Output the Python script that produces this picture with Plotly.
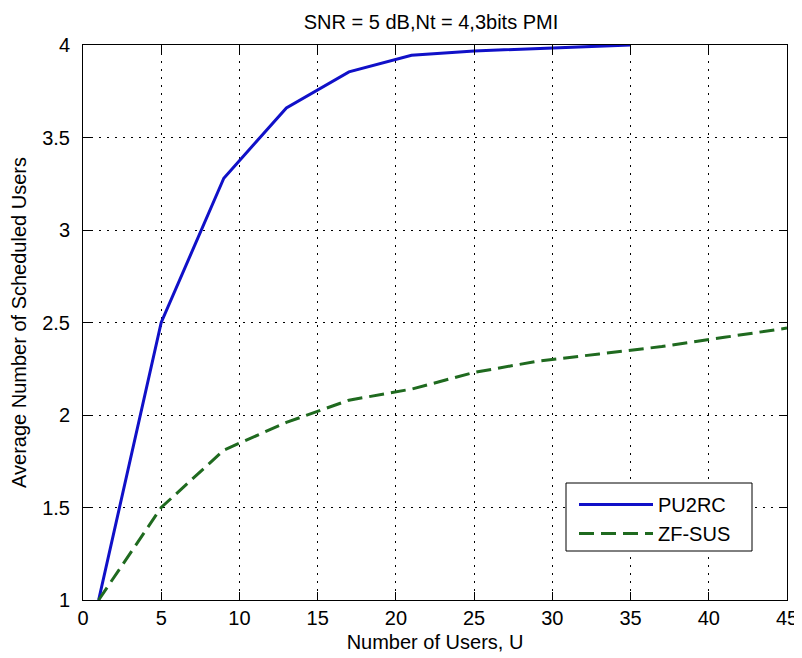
import plotly.graph_objects as go

users_pu2rc = [1, 5, 9, 13, 17, 21, 25, 29, 33, 35]
avg_pu2rc = [1.0, 2.5, 3.28, 3.66, 3.855, 3.945, 3.968, 3.982, 3.992, 4.0]

users_zf = [1, 5, 9, 13, 17, 21, 25, 29, 33, 37, 41, 45]
avg_zf = [1.0, 1.5, 1.81, 1.96, 2.08, 2.14, 2.23, 2.29, 2.33, 2.37, 2.42, 2.47]

x_ticks = [0, 5, 10, 15, 20, 25, 30, 35, 40, 45]
y_ticks = [1, 1.5, 2, 2.5, 3, 3.5, 4]
y_tick_text = ["1", "1.5", "2", "2.5", "3", "3.5", "4"]

FONT = "Liberation Sans, Arial, sans-serif"

# The page body has an 8px default margin, so the figure is made 8px smaller
# and all positions are offset accordingly.
W, H = 794, 650
PL, PR, PT, PB = 75, 779, 37, 592  # plot area in figure pixels

fig = go.Figure()
fig.add_trace(go.Scatter(
    x=users_pu2rc, y=avg_pu2rc, mode="lines", name="PU2RC",
    line=dict(color="#1010c8", width=3),
))
fig.add_trace(go.Scatter(
    x=users_zf, y=avg_zf, mode="lines", name="ZF-SUS",
    line=dict(color="#1f6a1f", width=3, dash="15px,7px"),
))

axis_common = dict(
    showline=True, linecolor="black", linewidth=1, mirror="allticks",
    ticks="inside", ticklen=8, tickcolor="black", tickwidth=1,
    showgrid=True, gridcolor="black", gridwidth=1, griddash="2px,6px",
    zeroline=False, tickfont=dict(family=FONT, size=20, color="black"),
    automargin=False,
)

fig.update_xaxes(
    range=[0, 45], tickvals=x_ticks, ticklabelstandoff=0,
    title=dict(text="Number of Users, U", font=dict(family=FONT, size=20, color="black"), standoff=6),
    **axis_common,
)
fig.update_yaxes(
    range=[1, 4], tickvals=y_ticks, ticktext=y_tick_text, ticklabelstandoff=8,
    title=dict(text="Average Number of Scheduled Users", font=dict(family=FONT, size=20, color="black"), standoff=10),
    **axis_common,
)

pw, ph = PR - PL, PB - PT
# legend frame (reference box: x 558-744, y 475-543 in figure pixels)
fig.add_shape(
    type="rect", xref="paper", yref="paper",
    x0=(558 - PL) / pw, x1=(744 - PL) / pw,
    y0=(PB - 543) / ph, y1=(PB - 475) / ph,
    fillcolor="white", line=dict(color="black", width=1), layer="above",
)

fig.update_layout(
    width=W, height=H,
    margin=dict(l=PL, r=W - PR, t=PT, b=H - PB, autoexpand=False),
    paper_bgcolor="white", plot_bgcolor="white",
    font=dict(family=FONT, size=20, color="black"),
    title=dict(text="SNR = 5 dB,Nt = 4,3bits PMI", x=423 / W, xanchor="center",
               y=1 - 14 / H, yanchor="middle", yref="container",
               font=dict(family=FONT, size=20, color="black")),
    showlegend=True,
    legend=dict(
        x=(566 - PL) / pw, y=(PB - 477) / ph, xanchor="left", yanchor="top",
        bgcolor="rgba(0,0,0,0)", borderwidth=0,
        font=dict(family=FONT, size=20, color="black"),
        itemwidth=74,
    ),
)

fig.write_html("out.html")
